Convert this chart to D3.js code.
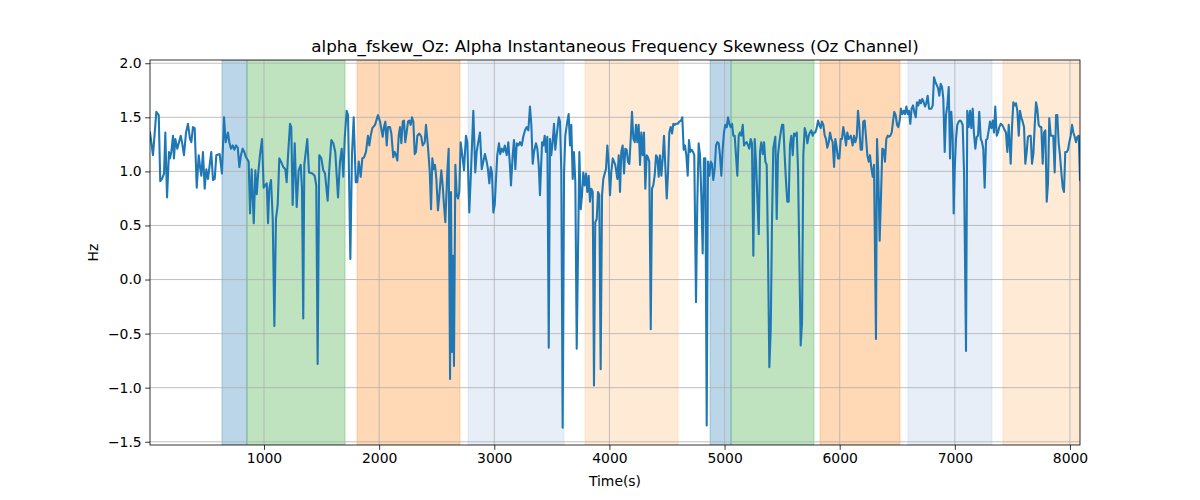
<!DOCTYPE html>
<html>
<head>
<meta charset="utf-8">
<script src="https://cdn.jsdelivr.net/npm/d3@7"></script>
<style>
  html, body { margin: 0; padding: 0; background: #fff; }
  svg text { font-family: "DejaVu Sans", sans-serif; fill: #000; }
</style>
</head>
<body>
<svg id="chart" width="1200" height="500"></svg>
<script>
// ---- data ----
const titleText = "alpha_fskew_Oz: Alpha Instantaneous Frequency Skewness (Oz Channel)";
const xLabel = "Time(s)";
const yLabel = "Hz";
const xLimits = [10, 8087];
const yLimits = [-1.53, 2.03];
const xTicks = [1000, 2000, 3000, 4000, 5000, 6000, 7000, 8000];
const yTicks = [-1.5, -1.0, -0.5, 0.0, 0.5, 1.0, 1.5, 2.0];

const time = [
  10,36,65,86,99,114,132,143,158,175,184,195,210,218,230,247,277,288,305,323,340,357,369,383,398,416,433,447,456,470,485,499,514,542,557,572,586,615,635,653,667,687,
  699,713,728,742,757,772,786,800,815,829,844,867,879,893,911,925,937,948,965,983,997,1011,1024,1035,1046,1061,1076,1090,1104,1119,1133,1148,1168,1185,1197,1209,1226,1237,1249,1267,1284,1301,1319,1330,1341,1350,
  1376,1391,1420,1440,1454,1466,1480,1498,1515,1530,1553,1567,1585,1602,1619,1643,1660,1675,1689,1701,1718,1730,1750,1764,1779,1797,1810,1823,1840,1854,1869,1886,1903,1915,1927,1941,1964,1990,2008,2031,2042,
  2054,2066,2077,2094,2106,2123,2135,2147,2158,2170,2181,2193,2205,2216,2227,2239,2251,2262,2274,2285,2297,2309,2320,2332,2349,2366,2378,2396,2407,2424,2439,2451,2462,2474,2485,2497,2511,2523,2540,2552,2563,2575,2592,2604,2616,2624,2633,2642,2650,2662,2674,2685,2696,2708,
  2726,2737,2754,2766,2783,2800,2818,2835,2847,2861,2876,2891,2905,2919,2934,2945,2957,2969,2980,2992,3004,3015,3026,3041,3052,3065,3078,3091,3108,3122,3137,3145,3160,3171,3183,3195,3209,3223,3238,3252,3267,3282,3296,3310,3322,3334,3345,3362,3374,3386,3397,
  3415,3426,3438,3449,3461,3473,3484,3495,3507,3519,3530,3542,3560,3571,3582,3594,3606,3617,3634,3646,3658,3669,3681,3692,3704,3716,3739,3751,3762,3773,3785,3797,3808,3820,3831,3843,3855,3866,3877,3890,3901,3912,3924,3936,3947,3959,3970,3982,3994,4005,4016,4029,4040,4051,
  4069,4081,4092,4103,4115,4127,4138,4150,4161,4173,4185,4196,4208,4220,4231,4242,4254,4266,4277,4289,4300,4312,4324,4335,4346,4359,4370,4381,4393,4405,4416,4428,4439,4451,4463,4474,4485,4498,4509,4520,4532,4544,4555,4567,4578,4593,4607,4622,4633,4645,4656,4668,4680,4691,4702,4715,4726,4737,4752,
  4763,4775,4787,4798,4810,4821,4833,4845,4856,4868,4880,4891,4902,4914,4926,4937,4949,4960,4972,4984,4995,5006,5019,5030,5041,5053,5065,5076,5088,5099,5111,5123,5134,5145,5158,5169,5180,5192,5204,5215,5227,5238,5250,5262,5273,5284,5297,5308,5319,5331,5343,5354,5366,5377,5389,5401,5412,5423,
  5441,5453,5464,5476,5488,5499,5510,5522,5534,5545,5557,5568,5580,5592,5603,5614,5627,5638,5661,5673,5684,5696,5707,5719,5731,5742,5753,5766,5777,5788,5800,5812,5823,5835,5846,5858,5870,5881,5892,5905,5916,5927,5939,5951,5962,5974,5985,5997,6009,6020,6031,6044,6055,6066,6078,6096,
  6113,6124,6136,6148,6159,6170,6182,6194,6205,6217,6228,6240,6252,6263,6274,6287,6298,6315,6324,6335,6347,6359,6370,6382,6393,6405,6417,6428,6440,6452,6463,6474,6486,6498,6509,6521,6532,6544,6556,6567,6579,6591,6602,6613,6625,6637,6648,6660,6671,6683,6695,6706,6717,6730,6741,6752,6764,6776,
  6796,6808,6819,6830,6842,6854,6865,6877,6889,6900,6912,6923,6935,6947,6958,6969,6981,6990,6999,7010,7021,7034,7045,7056,7068,7080,7097,7108,7120,7132,7143,7155,7166,7178,7190,7201,7212,7225,7236,7247,7259,7271,7282,7294,7305,7317,7329,7340,7351,7364,7375,7386,7398,7410,7421,7433,7444,7456,
  7468,7485,7496,7508,7520,7531,7543,7555,7566,7577,7589,7601,7612,7624,7635,7647,7659,7670,7682,7694,7705,7716,7728,7740,7751,7763,7774,7786,7798,7809,7820,7833,7844,7855,7867,7879,7890,7902,7913,7925,7937,7948,7959,7972,7983,7994,8006,8018,8029,8041,8052,8064,8076,8087
];

const fskew = [
  1.36,1.15,1.55,1.52,0.91,0.93,0.98,1.36,0.76,1.18,1.12,1.18,1.33,1.12,1.30,1.21,1.33,1.27,1.15,1.36,1.44,1.30,1.27,1.41,1.40,0.85,1.15,1.02,0.96,1.18,0.84,1.02,0.93,1.18,0.92,0.93,1.15,1.16,0.98,1.50,1.27,1.36,
  1.27,1.21,1.24,1.20,1.24,1.22,1.04,1.15,1.21,1.18,1.13,1.09,0.61,1.02,0.52,1.01,0.79,0.96,1.15,1.30,0.85,0.87,0.89,0.52,0.84,0.92,0.56,-0.43,0.56,0.69,1.12,1.09,1.04,1.02,0.90,1.15,1.44,1.41,0.69,1.26,0.67,1.01,1.06,0.84,-0.36,1.06,
  1.30,0.99,0.98,0.96,0.87,-0.78,1.15,1.12,1.01,0.98,0.73,1.02,1.29,1.26,1.18,0.76,1.09,1.21,0.95,1.30,1.56,1.52,0.19,1.15,1.50,0.90,0.90,1.09,0.95,1.12,1.13,1.18,1.33,1.24,1.33,1.40,1.43,1.52,1.46,1.32,1.41,
  1.46,1.24,1.41,1.41,1.35,1.13,1.18,1.15,1.10,1.33,1.41,1.26,1.46,1.47,1.27,1.36,1.46,1.47,1.43,1.50,1.46,1.16,1.18,1.33,1.35,1.32,1.24,1.27,1.43,1.23,1.01,0.65,1.12,1.02,1.06,0.93,0.64,0.78,1.01,0.87,0.69,0.53,0.99,1.21,-0.92,0.81,-0.67,0.22,-0.80,1.06,0.78,0.75,0.81,1.27,
  1.12,1.01,1.33,1.27,0.62,1.06,1.56,0.99,1.18,1.27,1.36,1.02,1.09,1.16,1.09,1.02,0.89,1.04,0.99,0.62,0.69,0.93,1.15,1.26,1.16,1.21,1.18,1.24,1.15,1.27,1.04,0.87,1.15,1.29,1.02,1.26,1.24,1.27,1.24,1.32,1.38,1.41,1.38,1.60,1.43,1.07,1.18,1.26,1.21,1.06,0.78,
  1.27,1.24,1.33,1.18,1.32,-0.63,1.30,1.15,1.27,1.44,1.20,1.33,1.50,1.46,1.01,-1.37,0.99,1.33,1.46,1.53,1.24,1.43,0.93,1.18,0.90,-0.64,1.18,0.65,0.78,0.99,0.87,0.98,0.81,0.96,0.72,0.84,0.81,-0.98,0.53,0.56,0.81,0.78,-0.83,0.78,0.93,0.98,1.02,1.24,1.06,0.78,0.99,1.12,1.09,1.06,
  0.93,1.15,0.81,1.18,1.24,0.98,1.21,1.20,1.09,1.07,1.30,1.55,1.30,1.27,1.43,1.27,1.43,1.06,1.36,1.15,1.36,0.84,1.15,1.13,1.09,-0.46,0.84,0.87,0.96,1.15,1.13,0.95,1.15,0.96,1.12,1.33,1.06,0.75,0.99,1.36,1.41,1.35,1.44,1.43,1.44,1.44,1.46,1.47,1.50,1.20,1.24,1.15,0.96,1.29,1.18,1.20,1.18,1.15,-0.21,
  0.69,1.26,1.15,0.78,0.24,1.12,1.12,-1.35,1.09,0.96,1.09,1.07,0.92,1.02,1.24,1.27,1.26,1.15,0.96,1.21,1.36,1.43,1.41,1.50,1.44,1.41,1.44,1.33,1.33,1.15,0.96,1.33,1.36,1.33,1.43,1.24,1.26,1.27,1.24,1.21,1.30,1.26,0.22,1.30,1.09,0.78,0.42,1.18,1.27,1.16,1.27,1.09,1.06,0.28,-0.81,-0.46,0.53,1.21,
  1.32,0.56,1.15,1.27,1.36,1.43,1.43,1.15,0.90,0.72,0.72,1.24,1.33,1.15,1.35,1.33,1.36,1.02,-0.61,-0.40,1.15,1.40,1.36,1.26,1.33,1.36,1.38,1.33,1.36,1.36,1.40,1.47,1.43,1.40,1.46,1.43,1.33,1.30,1.22,1.27,1.36,1.30,1.27,1.04,1.30,1.22,1.12,1.12,1.30,1.30,1.41,1.33,1.24,1.36,1.30,1.33,
  1.24,1.33,1.27,1.32,1.56,1.43,1.20,1.20,1.46,1.47,1.32,1.15,1.09,1.15,1.04,0.95,1.06,-0.55,1.30,0.99,0.36,0.78,1.21,1.20,1.09,1.30,1.33,1.32,1.33,1.36,1.46,1.55,1.52,1.43,1.41,1.47,1.58,1.53,1.56,1.53,1.60,1.53,1.56,1.44,1.58,1.61,1.55,1.50,1.64,1.61,1.66,1.63,1.67,1.64,1.60,1.63,1.70,1.58,
  1.58,1.61,1.87,1.83,1.80,1.77,1.70,1.81,1.78,1.67,1.18,1.52,1.61,1.78,1.12,1.55,1.33,0.61,1.02,1.30,1.43,1.46,1.47,1.46,1.43,0.99,-0.66,1.56,1.41,1.56,1.40,1.58,1.35,1.21,1.32,1.33,1.55,1.30,1.27,1.21,0.85,1.29,1.30,1.38,1.46,1.40,1.47,1.36,1.60,1.33,1.36,1.41,1.44,1.43,1.41,1.38,1.36,1.18,
  1.43,1.07,1.40,1.64,1.61,1.63,1.56,1.33,1.56,1.50,1.46,1.41,1.07,1.18,1.32,1.33,1.33,1.07,1.16,1.43,1.64,1.58,1.43,1.41,1.41,1.07,1.36,1.38,0.72,0.89,1.49,1.33,1.33,1.33,0.99,1.52,1.52,1.26,1.15,0.99,0.85,0.81,1.18,1.18,1.20,1.27,1.33,1.43,1.36,1.32,1.27,1.32,1.33,0.92
];

// shaded periods (start, end, kind)
const spanStart = [635, 852, 1808, 2772, 3788, 4874, 5056, 5829, 6593, 7418];
const spanEnd   = [852, 1704, 2702, 3606, 4596, 5056, 5777, 6524, 7323, 8087];
const spanKind  = ["blue", "green", "orange", "lightblue", "lightorange", "blue", "green", "orange", "lightblue", "lightorange"];

// ---- drawing ----
const kindColor = {
  blue: "#1f77b4", green: "#2ca02c", orange: "#ff7f0e",
  lightblue: "#aec7e8", lightorange: "#ffbb78"
};

const W = 1200, H = 500;
const margin = { left: 150, right: 120, top: 60, bottom: 55 };
const x0 = margin.left, x1 = W - margin.right, y0 = margin.top, y1 = H - margin.bottom;

const svg = d3.select("#chart");
const x = d3.scaleLinear().domain(xLimits).range([x0, x1]);
const y = d3.scaleLinear().domain(yLimits).range([y1, y0]);

svg.append("defs").append("clipPath").attr("id", "plotclip")
  .append("rect").attr("x", x0).attr("y", y0).attr("width", x1 - x0).attr("height", y1 - y0);

const plot = svg.append("g").attr("clip-path", "url(#plotclip)");

// spans
plot.selectAll("rect.span")
  .data(spanStart.map((s, i) => ({ s, e: spanEnd[i], k: spanKind[i] })))
  .enter().append("rect")
  .attr("class", "span")
  .attr("x", d => x(d.s))
  .attr("width", d => x(d.e) - x(d.s))
  .attr("y", y0).attr("height", y1 - y0)
  .attr("fill", d => kindColor[d.k]).attr("fill-opacity", 0.3)
  .attr("stroke", d => kindColor[d.k]).attr("stroke-opacity", 0.3).attr("stroke-width", 1);

// grid
const grid = plot.append("g");
grid.selectAll("line.vx").data(xTicks).enter().append("line")
  .attr("x1", d => x(d)).attr("x2", d => x(d)).attr("y1", y0).attr("y2", y1)
  .attr("stroke", "#b0b0b0").attr("stroke-width", 0.8);
grid.selectAll("line.hy").data(yTicks).enter().append("line")
  .attr("y1", d => y(d)).attr("y2", d => y(d)).attr("x1", x0).attr("x2", x1)
  .attr("stroke", "#b0b0b0").attr("stroke-width", 0.8);

// line
const pts = time.map((t, i) => [t, fskew[i]]).filter(p => p[1] !== undefined);
plot.append("path")
  .datum(pts)
  .attr("fill", "none")
  .attr("stroke", "#1f77b4")
  .attr("stroke-width", 2.08)
  .attr("stroke-linejoin", "round")
  .attr("stroke-linecap", "square")
  .attr("d", d3.line().x(d => x(d[0])).y(d => y(d[1])));

// axes
const fmtY = v => d3.format(".1f")(v).replace("-", "\u2212");
const xAxis = d3.axisBottom(x).tickValues(xTicks).tickFormat(d3.format("d")).tickSizeInner(4.86).tickSizeOuter(0).tickPadding(3.5);
const yAxis = d3.axisLeft(y).tickValues(yTicks).tickFormat(fmtY).tickSizeInner(4.86).tickSizeOuter(0).tickPadding(3.5);

const gx = svg.append("g").attr("transform", `translate(0,${y1})`).call(xAxis);
const gy = svg.append("g").attr("transform", `translate(${x0},0)`).call(yAxis);
[gx, gy].forEach(g => {
  g.select(".domain").remove();
  g.selectAll(".tick line").attr("stroke", "#000").attr("stroke-width", 0.8);
  g.selectAll(".tick text").attr("font-size", "13.9px").attr("font-family", "DejaVu Sans, sans-serif").attr("fill", "#000");
});

// spines
svg.append("rect").attr("x", x0).attr("y", y0).attr("width", x1 - x0).attr("height", y1 - y0)
  .attr("fill", "none").attr("stroke", "#000").attr("stroke-width", 0.8);

// labels
svg.append("text").attr("x", (x0 + x1) / 2).attr("y", 52)
  .attr("text-anchor", "middle").attr("font-size", "16.7px").text(titleText);
svg.append("text").attr("x", (x0 + x1) / 2).attr("y", 486)
  .attr("text-anchor", "middle").attr("font-size", "13.9px").text(xLabel);
svg.append("text").attr("transform", `translate(98,${(y0 + y1) / 2}) rotate(-90)`)
  .attr("text-anchor", "middle").attr("font-size", "13.9px").text(yLabel);
</script>
</body>
</html>
